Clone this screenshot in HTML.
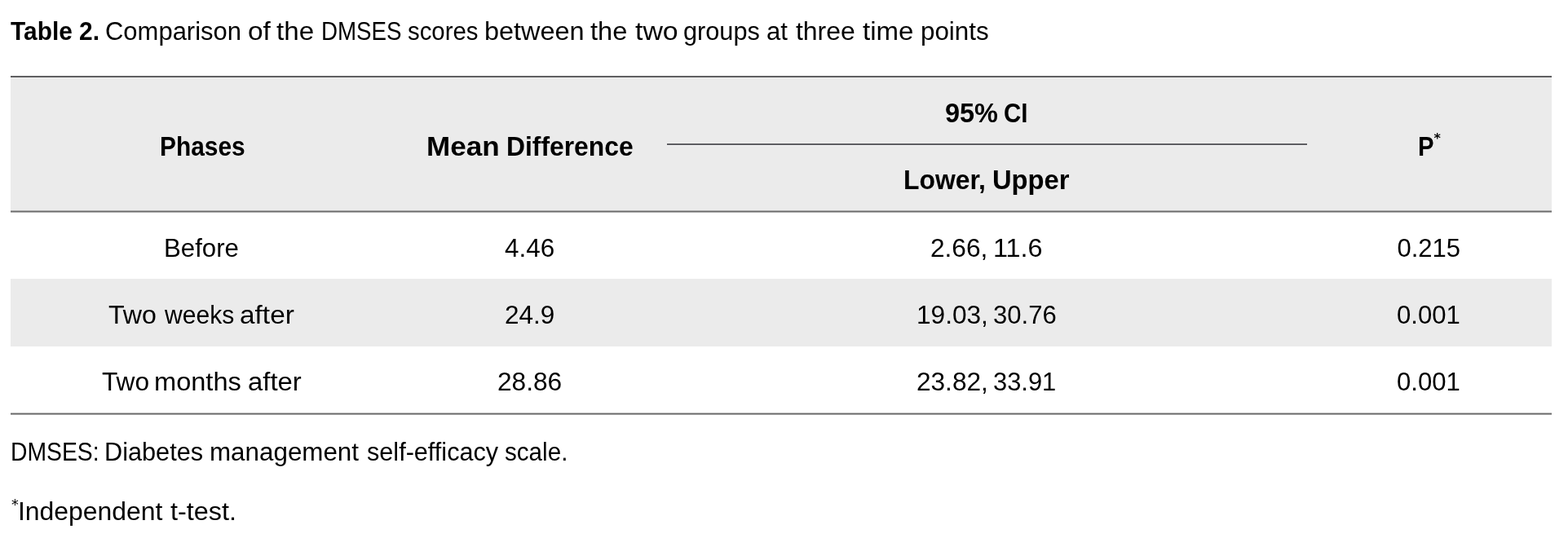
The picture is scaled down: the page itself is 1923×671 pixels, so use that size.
<!DOCTYPE html>
<html lang="en">
<head>
<meta charset="utf-8">
<title>Table 2</title>
<style>
  html, body { margin: 0; padding: 0; background: #ffffff; }
  body { width: 1923px; height: 671px; overflow: hidden; position: relative;
         font-family: "Liberation Sans", sans-serif; color: #000; }
  .wrap { position: absolute; left: 13px; top: 0; width: 1890px; height: 671px; }
  p { margin: 0; }
  .w { position: absolute; display: inline-block; white-space: nowrap; line-height: 36px;
        transform-origin: 0 50%; }
  .caption, .note { font-size: 31px; }
  table { position: absolute; left: 0; top: 93px; width: 1890px; border-collapse: collapse;
          table-layout: fixed; border-top: 2px solid #5f5f61; }
  col.c1 { width: 469px; } col.c2 { width: 336px; } col.c3 { width: 784px; } col.c4 { width: 301px; }
  th, td { padding: 0; text-align: center; }
  thead th { background: #ebebeb; font-weight: bold; font-size: 34px; }
  thead tr.h1 th { height: 82px; }
  thead tr.h2 th { height: 81px; }
  tbody td { font-size: 31px; font-weight: normal; }
  tbody tr.r1 td { height: 84px; }
  tbody tr.r2 td { height: 83px; background: #ebebeb; }
  tbody tr.r3 td { height: 82px; }
  .st { position: absolute; font-family: "DejaVu Sans", "Liberation Sans", sans-serif; font-size: 17.5px;
         font-weight: normal; line-height: 30px; }
  .rule { position: absolute; left: 0; width: 1890px; height: 1px; }
  .inner { position: absolute; left: 805px; width: 785px; top: 176px; height: 2px; background: #5e5e62; }
</style>
</head>
<body>
<div class="wrap">
  <p class="caption"><b class="w" style="left:0.06px;top:21px;transform:scaleX(0.9634)">Table 2.</b> <span class="w" style="left:116.00px;top:21px;transform:scaleX(0.9994)">Comparison</span> <span class="w" style="left:291.15px;top:21px;transform:scaleX(1.0788)">of</span> <span class="w" style="left:326.17px;top:21px;transform:scaleX(1.0691)">the</span> <span class="w" style="left:380.56px;top:21px;transform:scaleX(0.8941)">DMSES</span> <span class="w" style="left:486.85px;top:21px;transform:scaleX(0.9468)">scores</span> <span class="w" style="left:580.71px;top:21px;transform:scaleX(1.0455)">between</span> <span class="w" style="left:711.48px;top:21px;transform:scaleX(1.0497)">the</span> <span class="w" style="left:765.65px;top:21px;transform:scaleX(1.0925)">two</span> <span class="w" style="left:824.96px;top:21px;transform:scaleX(0.9903)">groups</span> <span class="w" style="left:927.44px;top:21px;transform:scaleX(1.0041)">at</span> <span class="w" style="left:963.19px;top:21px;transform:scaleX(1.0298)">three</span> <span class="w" style="left:1045.17px;top:21px;transform:scaleX(1.0661)">time</span> <span class="w" style="left:1116.28px;top:21px;transform:scaleX(1.0113)">points</span></p>
  <table>
    <colgroup><col class="c1"><col class="c2"><col class="c3"><col class="c4"></colgroup>
    <thead>
      <tr class="h1">
        <th rowspan="2"><span class="w" style="left:182.72px;top:67px;transform:scaleX(0.8788)">Phases</span></th>
        <th rowspan="2"><span class="w" style="left:509.68px;top:67px;transform:scaleX(1.0303)">Mean</span> <span class="w" style="left:608.09px;top:67px;transform:scaleX(0.9358)">Difference</span></th>
        <th><span class="w" style="left:1145.61px;top:26px;transform:scaleX(0.9545)">95%</span> <span class="w" style="left:1218.00px;top:26px;transform:scaleX(0.8661)">CI</span></th>
        <th rowspan="2"><span class="w" style="left:1725.66px;top:67px;transform:scaleX(0.8623)">P</span><sup class="st" style="left:1745.4px;top:61px;font-size:16px;font-weight:bold">*</sup></th>
      </tr>
      <tr class="h2">
        <th><span class="w" style="left:1094.89px;top:108px;transform:scaleX(0.9375)">Lower,</span> <span class="w" style="left:1203.78px;top:108px;transform:scaleX(0.9619)">Upper</span></th>
      </tr>
    </thead>
    <tbody>
      <tr class="r1"><td><span class="w" style="left:188.19px;top:193px;transform:scaleX(1.0057)">Before</span></td><td><span class="w" style="left:605.94px;top:193px;transform:scaleX(1.0129)">4.46</span></td><td><span class="w" style="left:1128.07px;top:193px;transform:scaleX(1.0193)">2.66,</span> <span class="w" style="left:1204.95px;top:193px;transform:scaleX(1.0440)">11.6</span></td><td><span class="w" style="left:1700.45px;top:193px;transform:scaleX(1.0000)">0.215</span></td></tr>
      <tr class="r2"><td><span class="w" style="left:120.42px;top:275px;transform:scaleX(1.0374)">Two</span> <span class="w" style="left:188.50px;top:275px;transform:scaleX(0.9695)">weeks</span> <span class="w" style="left:280.95px;top:275px;transform:scaleX(1.0772)">after</span></td><td><span class="w" style="left:605.58px;top:275px;transform:scaleX(1.0157)">24.9</span></td><td><span class="w" style="left:1110.51px;top:275px;transform:scaleX(1.0191)">19.03,</span> <span class="w" style="left:1205.05px;top:275px;transform:scaleX(1.0013)">30.76</span></td><td><span class="w" style="left:1700.45px;top:275px;transform:scaleX(1.0033)">0.001</span></td></tr>
      <tr class="r3"><td><span class="w" style="left:111.63px;top:357px;transform:scaleX(1.0210)">Two</span> <span class="w" style="left:176.40px;top:357px;transform:scaleX(1.0508)">months</span> <span class="w" style="left:290.67px;top:357px;transform:scaleX(1.0606)">after</span></td><td><span class="w" style="left:596.77px;top:357px;transform:scaleX(1.0207)">28.86</span></td><td><span class="w" style="left:1110.57px;top:357px;transform:scaleX(1.0183)">23.82,</span> <span class="w" style="left:1205.06px;top:357px;transform:scaleX(0.9953)">33.91</span></td><td><span class="w" style="left:1700.45px;top:357px;transform:scaleX(1.0033)">0.001</span></td></tr>
    </tbody>
  </table>
  <div class="inner"></div>
  <div class="inner" style="top:178px;height:1px;background:#f3f3f5"></div>
  <div class="rule" style="top:258px;background:#a8a8a8"></div>
  <div class="rule" style="top:259px;background:#6c6c6c"></div>
  <div class="rule" style="top:260px;background:#b4b4b4"></div>
  <div class="rule" style="top:506px;background:#c4c4c4"></div>
  <div class="rule" style="top:507px;background:#6a6a6a"></div>
  <div class="rule" style="top:508px;background:#a0a0a0"></div>
  <p class="note"><span class="w" style="left:0.22px;top:537px;transform:scaleX(0.9137)">DMSES:</span> <span class="w" style="left:115.33px;top:537px;transform:scaleX(0.9895)">Diabetes</span> <span class="w" style="left:244.18px;top:537px;transform:scaleX(1.0115)">management</span> <span class="w" style="left:436.81px;top:537px;transform:scaleX(0.9877)">self-efficacy</span> <span class="w" style="left:606.04px;top:537px;transform:scaleX(0.9553)">scale.</span></p>
  <p class="note"><sup class="st" style="left:1px;top:604px">*</sup><span class="w" style="left:9.47px;top:610px;transform:scaleX(1.0289)">Independent</span> <span class="w" style="left:196.48px;top:610px;transform:scaleX(1.0451)">t-test.</span></p>
</div>
</body>
</html>
